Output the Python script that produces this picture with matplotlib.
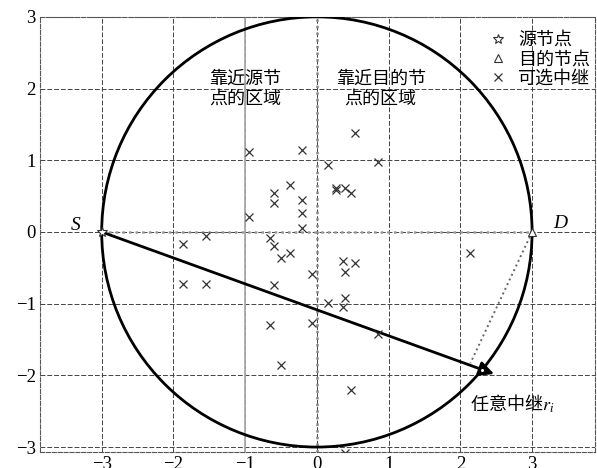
import matplotlib
matplotlib.use("Agg")
import matplotlib.pyplot as plt
from matplotlib.patches import Circle

plt.rcParams['font.family'] = ['Liberation Serif', 'Noto Sans CJK SC', 'DejaVu Sans']
plt.rcParams['mathtext.fontset'] = 'stix'

# Candidate relay positions
relay_x = [-0.95, -0.21, -0.37, -0.60, -0.60, -0.21, -0.21, -0.21, -0.95, -1.54,
           -1.87, -0.66, -0.60, -0.37, -0.50, -1.86, -1.54, -0.60, -0.07, -0.66,
           -0.07, -0.50, 0.53, 0.15, 0.85, 0.26, 0.27, 0.39, 0.47, 0.37,
           0.53, 0.39, 0.39, 0.15, 0.37, 0.85, 0.47, 0.39, 2.14]
relay_y = [1.11, 1.14, 0.65, 0.54, 0.40, 0.44, 0.27, 0.06, 0.21, -0.06,
           -0.17, -0.09, -0.20, -0.29, -0.37, -0.73, -0.72, -0.74, -0.58, -1.30,
           -1.27, -1.86, 1.38, 0.94, 0.97, 0.62, 0.59, 0.62, 0.54, -0.41,
           -0.43, -0.56, -0.92, -0.99, -1.04, -1.43, -2.21, -3.08, -0.29]

source = (-3.0, 0.0)
dest = (3.0, 0.0)
radius = 3.0
arrow_end = (2.47, -1.98)
relay_i = (2.30, -1.93)
foot = (2.14, -1.83)

ticks = [-3, -2, -1, 0, 1, 2, 3]

fig = plt.figure(figsize=(5.97, 4.68), dpi=100)
ax = fig.add_axes([0.067, 0.034, 0.93, 0.93])
ax.set_xlim(-3.86, 3.88)
ax.set_ylim(-3.07, 3.0)
ax.set_xticks(ticks)
ax.set_yticks(ticks)
ax.tick_params(length=0, labelsize=13.5, pad=3)
for s in ax.spines.values():
    s.set_linestyle('--')
    s.set_linewidth(0.8)
    s.set_color('#555555')
ax.grid(True, linestyle=(0, (5, 2)), color='#444444', linewidth=0.7)
ax.set_axisbelow(True)

# region divider and S-D baseline
ax.axvline(-1, color='#aaaaaa', lw=1.3, zorder=1)
ax.axvline(0, color='#888888', lw=1.8, linestyle=':', zorder=2)
ax.plot([source[0], dest[0]], [source[1], dest[1]], color='#999999', lw=1.8,
        linestyle=':', zorder=2)

ax.add_patch(Circle((0, 0), radius, fill=False, lw=2.0, color='black', zorder=3))

ax.annotate('', xy=arrow_end, xytext=source,
            arrowprops=dict(arrowstyle='-|>', lw=2.0, color='black',
                            mutation_scale=22, shrinkA=0, shrinkB=0), zorder=4)
ax.plot([dest[0], foot[0]], [dest[1], foot[1]], color='#666666', lw=1.4,
        linestyle=':', zorder=3)
ax.plot(*relay_i, marker='o', ms=3, mfc='white', mec='black', mew=0.8, zorder=5)

ax.plot(*source, marker='*', ms=7, mfc='white', mec='#333333', mew=0.8,
        linestyle='none', label='源节点', zorder=5)
ax.plot(*dest, marker='^', ms=6, mfc='white', mec='#333333', mew=0.8,
        linestyle='none', label='目的节点', zorder=5)
ax.plot(relay_x, relay_y, marker='x', ms=6, color='#333333', mew=0.9,
        linestyle='none', label='可选中继', zorder=5)

leg = ax.legend(loc='upper right', bbox_to_anchor=(1.01, 0.99), frameon=False,
                fontsize=13, handlelength=1.0, handletextpad=0.6,
                labelspacing=0.12, borderaxespad=0.2)

cjk = ['Noto Sans CJK SC', 'DejaVu Sans']
ax.text(-1.0, 2.0, '靠近源节\n点的区域', ha='center', va='center', fontsize=13,
        family=cjk, linespacing=1.15)
ax.text(0.89, 2.0, '靠近目的节\n点的区域', ha='center', va='center', fontsize=13,
        family=cjk, linespacing=1.15)
ax.text(-3.37, 0.09, 'S', ha='center', va='center', fontsize=14, style='italic')
ax.text(3.39, 0.12, 'D', ha='center', va='center', fontsize=14, style='italic')
ax.text(2.14, -2.39, '任意中继$r_i$', ha='left', va='center', fontsize=13,
        family=cjk)

fig.savefig('out.png', dpi=100)
